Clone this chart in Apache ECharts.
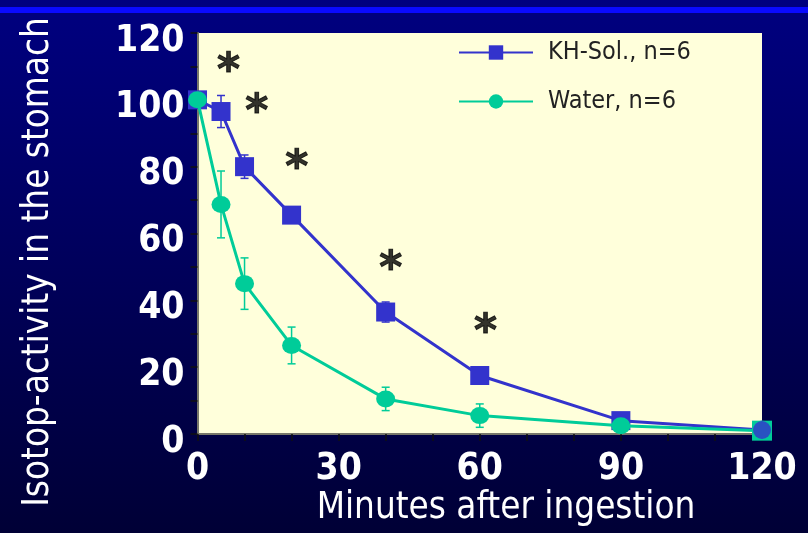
<!DOCTYPE html>
<html>
<head>
<meta charset="utf-8">
<script src="https://cdn.jsdelivr.net/npm/echarts@6/dist/echarts.min.js"></script>
<style>
  html, body { margin: 0; padding: 0; background: #000050; }
  #chart { width: 808px; height: 533px; }
</style>
</head>
<body>
<div id="chart"></div>
<script>
// Sampling times (minutes after ingestion)
const minutes = [0, 5, 10, 20, 40, 60, 90, 120];
// Isotope activity remaining in the stomach (% of initial), mean and SEM
const khSol = [100, 96.5, 80, 65.5, 36.5, 17.5, 4, 1.2];
const khSem = [0, 4.8, 3.5, 1, 3, 1.5, 0.5, 0];
const water = [100, 68.7, 45, 26.5, 10.5, 5.5, 2.5, 1];
const waterSem = [0, 10, 7.7, 5.5, 3.5, 3.5, 1, 0];
// Significance markers (*) placed beside the KH-Sol. curve
const starX = [6.6, 12.6, 21.1, 41.1, 61.2];
const starY = [110.7, 98.4, 81.5, 51.4, 32.4];
// Axis labels
const xTicks = [0, 30, 60, 90, 120];
const yTicks = [0, 20, 40, 60, 80, 100, 120];

const KH_NAME = 'KH-Sol., n=6';
const WATER_NAME = 'Water, n=6';
const KH_COLOR = '#3333CC';
const WATER_COLOR = '#00CC99';
const FONT = '"DejaVu Sans Condensed", "DejaVu Sans", sans-serif';

function errorBars(name, xs, ys, sems, color, z) {
  const data = [];
  xs.forEach((x, i) => {
    if (sems[i] > 0) data.push([x, ys[i] - sems[i], ys[i] + sems[i]]);
  });
  return {
    type: 'custom',
    name: name + ' SEM',
    z: z,
    silent: true,
    data: data,
    encode: { x: 0, y: [1, 2] },
    renderItem(params, api) {
      const x = api.value(0);
      const lo = api.coord([x, api.value(1)]);
      const hi = api.coord([x, api.value(2)]);
      const w = 4;
      const style = { stroke: color, lineWidth: 1.5, fill: null };
      return {
        type: 'group',
        children: [
          { type: 'line', shape: { x1: lo[0], y1: lo[1], x2: hi[0], y2: hi[1] }, style },
          { type: 'line', shape: { x1: lo[0] - w, y1: lo[1], x2: lo[0] + w, y2: lo[1] }, style },
          { type: 'line', shape: { x1: hi[0] - w, y1: hi[1], x2: hi[0] + w, y2: hi[1] }, style }
        ]
      };
    }
  };
}

const khData = minutes.map((m, i) => {
  const p = { value: [m, khSol[i]] };
  if (i === minutes.length - 1) p.symbol = 'circle';
  return p;
});
const waterData = minutes.map((m, i) => {
  const p = { value: [m, water[i]] };
  if (i === minutes.length - 1) { p.symbol = 'rect'; p.symbolSize = 20; }
  return p;
});
const last = minutes.length - 1;

const chart = echarts.init(document.getElementById('chart'));
chart.setOption({
  animation: false,
  backgroundColor: new echarts.graphic.LinearGradient(0, 0, 0, 1, [
    { offset: 0, color: '#000080' },
    { offset: 1, color: '#000036' }
  ]),
  graphic: [
    { type: 'rect', left: 0, top: 7, shape: { width: 808, height: 6 }, style: { fill: '#0A0AFF' }, z: 100 },
    {
      type: 'text', x: 39, y: 262, rotation: Math.PI / 2,
      style: { text: 'Isotop-activity in the stomach', fill: '#fff', font: '36.5px ' + FONT, textAlign: 'center', textVerticalAlign: 'middle' }
    },
    {
      type: 'text', x: 506, y: 509,
      style: { text: 'Minutes after ingestion', fill: '#fff', font: '36.5px ' + FONT, textAlign: 'center', textVerticalAlign: 'middle' }
    }
  ],
  grid: {
    left: 197.5, right: 46, top: 33, bottom: 99,
    show: true, backgroundColor: '#FFFFDB', borderWidth: 0
  },
  legend: {
    data: [KH_NAME, WATER_NAME],
    orient: 'vertical',
    left: 458, top: 40, padding: 0,
    itemWidth: 74, itemHeight: 18, itemGap: 24,
    textStyle: { fontFamily: FONT, fontSize: 25, lineHeight: 25, color: '#222', padding: [0, 0, 0, 10] }
  },
  xAxis: {
    type: 'value', min: 0, max: 120, interval: 30,
    axisLine: { show: true, lineStyle: { color: '#77776a', width: 2 } },
    axisTick: { show: true, length: 7, lineStyle: { color: '#111', width: 1.5 } },
    minorTick: { show: true, splitNumber: 3, length: 7, lineStyle: { color: '#111', width: 1.5 } },
    splitLine: { show: false },
    axisLabel: {
      color: '#fff', fontFamily: FONT, fontSize: 37, fontWeight: 'bold', margin: 17,
      formatter: v => (xTicks.includes(v) ? String(v) : '')
    }
  },
  yAxis: {
    type: 'value', min: 0, max: 120, interval: 20,
    axisLine: { show: true, lineStyle: { color: '#77776a', width: 2 } },
    axisTick: { show: true, length: 7, lineStyle: { color: '#111', width: 1.5 } },
    minorTick: { show: true, splitNumber: 2, length: 7, lineStyle: { color: '#111', width: 1.5 } },
    splitLine: { show: false },
    axisLabel: {
      color: '#fff', fontFamily: FONT, fontSize: 37, fontWeight: 'bold', margin: 13,
      verticalAlign: 'top', lineHeight: 16,
      formatter: v => (yTicks.includes(v) ? String(v) : '')
    }
  },
  series: [
    errorBars(KH_NAME, minutes, khSol, khSem, KH_COLOR, 1),
    errorBars(WATER_NAME, minutes, water, waterSem, WATER_COLOR, 1),
    {
      name: KH_NAME, type: 'line', z: 3, data: khData,
      symbol: 'rect', symbolSize: 19,
      lineStyle: { color: KH_COLOR, width: 3 },
      itemStyle: { color: KH_COLOR }
    },
    {
      name: WATER_NAME, type: 'line', z: 4, data: waterData,
      symbol: 'circle', symbolSize: [19, 17],
      lineStyle: { color: WATER_COLOR, width: 3 },
      itemStyle: { color: WATER_COLOR }
    },
    {
      name: KH_NAME + ' end', type: 'scatter', z: 5,
      data: [[minutes[last], khSol[last]]],
      symbol: 'circle', symbolSize: 18,
      itemStyle: { color: KH_COLOR }
    },
    {
      name: 'significance', type: 'scatter', z: 6, silent: true,
      data: starX.map((x, i) => [x, starY[i]]),
      symbol: 'circle', symbolSize: 1,
      itemStyle: { color: 'rgba(0,0,0,0)' },
      label: {
        show: true, position: 'inside', formatter: '*',
        color: '#000', fontFamily: '"DejaVu Sans", sans-serif', fontSize: 44, fontWeight: 'bold',
        textBorderColor: '#000', textBorderWidth: 1,
        offset: [0, 8]
      }
    }
  ]
});
</script>
</body>
</html>
